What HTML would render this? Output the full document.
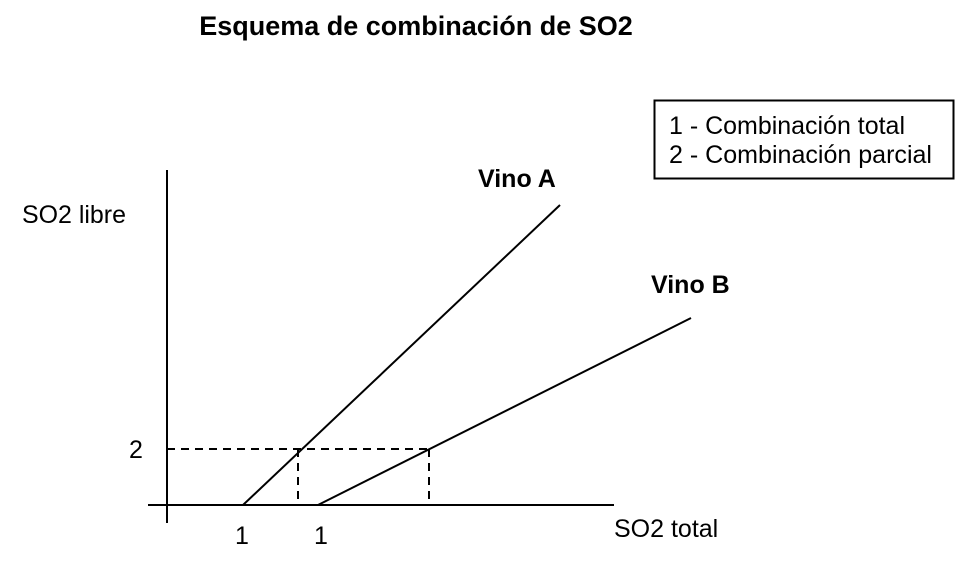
<!DOCTYPE html>
<html><head><meta charset="utf-8"><style>
html,body{margin:0;padding:0;background:#fff;}
svg{display:block;font-family:"Liberation Sans",Arial,sans-serif;}
</style></head><body>
<svg width="955" height="563" viewBox="0 0 955 563" xmlns="http://www.w3.org/2000/svg">
<text x="416" y="35" font-size="27" font-weight="bold" text-anchor="middle">Esquema de combinación de SO2</text>
<rect x="654.5" y="100.5" width="299" height="78" fill="none" stroke="#000" stroke-width="2"/>
<text x="669" y="134" font-size="25" textLength="236" lengthAdjust="spacingAndGlyphs">1 - Combinación total</text>
<text x="669" y="163" font-size="25" textLength="263" lengthAdjust="spacingAndGlyphs">2 - Combinación parcial</text>
<line x1="167" y1="170" x2="167" y2="523" stroke="#000" stroke-width="2"/>
<line x1="148" y1="505" x2="614" y2="505" stroke="#000" stroke-width="2"/>
<line x1="243" y1="505" x2="560" y2="205" stroke="#000" stroke-width="2"/>
<line x1="318" y1="505" x2="691" y2="318" stroke="#000" stroke-width="2"/>
<g stroke="#000" stroke-width="2" stroke-dasharray="8,6">
<line x1="167" y1="449" x2="430" y2="449"/>
<line x1="298" y1="449" x2="298" y2="505"/>
<line x1="429" y1="449" x2="429" y2="505"/>
</g>
<text x="22" y="223" font-size="25" textLength="104" lengthAdjust="spacingAndGlyphs">SO2 libre</text>
<text x="478" y="187" font-size="25" font-weight="bold">Vino A</text>
<text x="651" y="293" font-size="25" font-weight="bold">Vino B</text>
<text x="129" y="458" font-size="25">2</text>
<text x="235" y="544" font-size="25">1</text>
<text x="314" y="544" font-size="25">1</text>
<text x="614" y="537" font-size="25">SO2 total</text>
</svg>
</body></html>
